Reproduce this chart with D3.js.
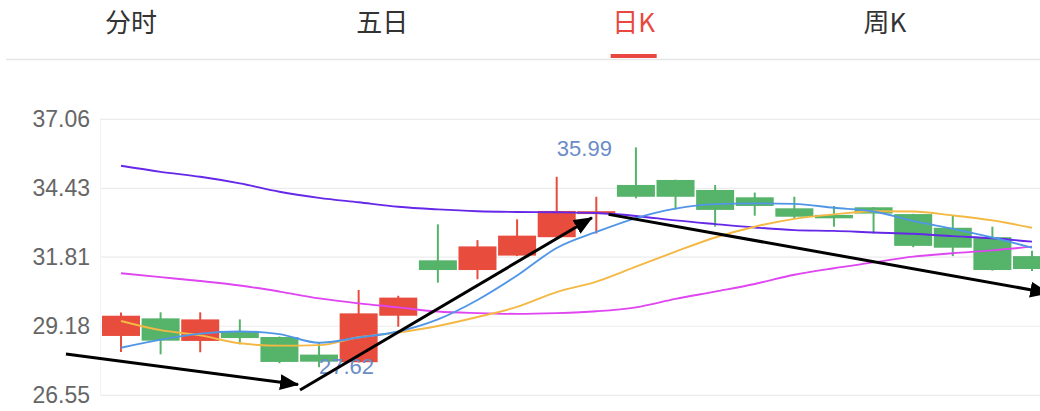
<!DOCTYPE html>
<html>
<head>
<meta charset="utf-8">
<title>日K</title>
<script src="https://d3js.org/d3.v7.min.js"></script>
<style>
  html, body { margin: 0; padding: 0; background: #fff; }
  svg { display: block; }
</style>
</head>
<body>
<div id="chart"></div>
<script>
// ---- data ----
var tabs = ["分时", "五日", "日K", "周K"];
var activeTab = 2;

var yTicks = [26.55, 29.18, 31.81, 34.43, 37.06];

// daily candles: open, close, high, low
var open  = [28.81, 29.48, 28.62, 29.00, 28.77, 28.10, 27.81, 29.58, 31.69, 31.32, 31.87, 32.57,
             33.45, 34.56, 34.75, 34.37, 34.09, 33.67, 33.42, 33.71, 33.45, 32.93, 32.57, 31.85];
var close = [29.58, 28.63, 29.44, 28.73, 27.82, 27.83, 29.67, 30.27, 31.32, 32.22, 32.63, 33.57,
             33.56, 34.11, 34.11, 33.61, 33.76, 33.35, 33.29, 33.47, 32.24, 32.17, 31.32, 31.36];
var high  = [29.70, 29.71, 29.71, 29.44, 28.79, 28.56, 30.56, 30.34, 33.06, 32.46, 33.25, 34.87,
             34.11, 35.99, 34.76, 34.56, 34.27, 34.11, 33.76, 33.72, 33.46, 33.38, 32.97, 32.05];
var low   = [28.20, 28.11, 28.19, 28.49, 27.77, 27.62, 27.80, 29.16, 30.84, 30.97, 31.85, 32.56,
             32.71, 34.05, 33.63, 32.97, 33.39, 33.29, 32.97, 32.71, 32.19, 31.85, 31.30, 31.28];

// moving average lines
var ma5  = [28.36, 28.67, 28.90, 28.98, 28.88, 28.55, 28.75, 28.98, 29.44, 30.18, 31.11, 32.16,
            32.77, 33.30, 33.66, 33.83, 33.86, 33.84, 33.69, 33.55, 33.19, 32.89, 32.56, 32.17];
var ma10 = [29.38, 29.03, 28.83, 28.53, 28.44, 28.46, 28.76, 28.94, 29.19, 29.53, 29.92, 30.48,
            30.88, 31.45, 32.02, 32.56, 32.97, 33.27, 33.44, 33.56, 33.55, 33.40, 33.21, 32.93];
var ma20 = [31.20, 31.05, 30.90, 30.73, 30.50, 30.24, 30.05, 29.90, 29.74, 29.68, 29.65, 29.68,
            29.75, 29.90, 30.22, 30.50, 30.79, 31.14, 31.39, 31.61, 31.83, 31.96, 32.07, 32.21];
var ma30 = [35.29, 35.06, 34.87, 34.62, 34.30, 34.07, 33.90, 33.73, 33.63, 33.56, 33.53, 33.52,
            33.49, 33.38, 33.21, 33.07, 32.94, 32.84, 32.81, 32.75, 32.70, 32.61, 32.53, 32.40];

// hand drawn arrows, [index, price] pairs
var arrows = [
  [[-1.39, 28.12], [4.47, 26.96]],
  [[4.52, 26.75], [11.89, 33.31]],
  [[12.31, 33.44], [23.41, 30.45]]
];

// ---- set-up ----
var W = 1040, H = 411;
var red = "#e84c3d", green = "#55b36a";

var svg = d3.select("#chart").append("svg")
  .attr("width", W).attr("height", H);

svg.append("rect").attr("width", W).attr("height", H).attr("fill", "#fff");

// tabs
var tabX = d3.scalePoint().domain(tabs).range([131, 885]);

svg.selectAll("text.tab")
  .data(tabs)
  .enter().append("text")
  .attr("class", "tab")
  .attr("x", function(d) { return tabX(d); })
  .attr("y", 32)
  .attr("text-anchor", "middle")
  .style("font-family", "'Noto Sans CJK SC', sans-serif")
  .style("font-size", "26px")
  .attr("fill", function(d, i) { return i == activeTab ? "#e8483f" : "#333"; })
  .text(function(d) { return d; });

svg.append("line")
  .attr("x1", 6).attr("x2", W).attr("y1", 59.5).attr("y2", 59.5)
  .attr("stroke", "#e6e6e6").attr("stroke-width", 1.5);

svg.append("rect")
  .attr("x", tabX(tabs[activeTab]) - 23).attr("y", 54)
  .attr("width", 46).attr("height", 4)
  .attr("fill", "#e8483f");

// scales
var y = d3.scaleLinear().domain([26.55, 37.06]).range([395.3, 119.3]);
var x = d3.scaleLinear().domain([0, 23]).range([121, 1032]);
var bodyW = 38;

// grid
svg.selectAll("line.grid")
  .data(yTicks)
  .enter().append("line")
  .attr("class", "grid")
  .attr("x1", 100).attr("x2", W)
  .attr("y1", function(d) { return y(d); })
  .attr("y2", function(d) { return y(d); })
  .attr("stroke", "#ececec").attr("stroke-width", 1.2);

svg.append("line")
  .attr("x1", 100.5).attr("x2", 100.5)
  .attr("y1", y(37.06)).attr("y2", y(26.55))
  .attr("stroke", "#f2f2f2");

// y axis labels
var yAxis = d3.axisLeft(y).tickValues(yTicks).tickSize(0).tickPadding(0)
  .tickFormat(d3.format(".2f"));

var ya = svg.append("g")
  .attr("transform", "translate(90,0)")
  .call(yAxis);
ya.select(".domain").remove();
ya.selectAll("text")
  .style("font-family", "'Liberation Sans', Arial, sans-serif")
  .style("font-size", "23px")
  .attr("fill", "#666");

// candles
var idx = d3.range(open.length);
var candles = svg.append("g").selectAll("g")
  .data(idx)
  .enter().append("g")
  .attr("fill", function(i) { return close[i] >= open[i] ? red : green; })
  .attr("stroke", function(i) { return close[i] >= open[i] ? red : green; });

candles.append("line")
  .attr("x1", function(i) { return x(i); })
  .attr("x2", function(i) { return x(i); })
  .attr("y1", function(i) { return y(high[i]); })
  .attr("y2", function(i) { return y(low[i]); })
  .attr("stroke-width", 2);

candles.append("rect")
  .attr("x", function(i) { return x(i) - bodyW / 2; })
  .attr("width", bodyW)
  .attr("y", function(i) { return y(Math.max(open[i], close[i])); })
  .attr("height", function(i) { return Math.max(2, Math.abs(y(open[i]) - y(close[i]))); })
  .attr("stroke", "none");

// moving averages
var line = d3.line()
  .x(function(d, i) { return x(i); })
  .y(function(d) { return y(d); })
  .curve(d3.curveMonotoneX);

var maSeries = [
  { values: ma30, color: "#6527e8" },
  { values: ma20, color: "#df45f0" },
  { values: ma10, color: "#f4b844" },
  { values: ma5,  color: "#5196e6" }
];

svg.selectAll("path.ma")
  .data(maSeries)
  .enter().append("path")
  .attr("class", "ma")
  .attr("d", function(d) { return line(d.values); })
  .attr("fill", "none")
  .attr("stroke", function(d) { return d.color; })
  .attr("stroke-width", 1.9);

// max / min labels
var iMax = d3.maxIndex(high), iMin = d3.minIndex(low);

svg.append("text")
  .attr("x", x(iMax) - 24).attr("y", y(high[iMax]) + 1)
  .attr("dy", "0.35em")
  .attr("text-anchor", "end")
  .style("font-family", "'Liberation Sans', Arial, sans-serif")
  .style("font-size", "22px")
  .attr("fill", "#6b8cc7")
  .text(high[iMax].toFixed(2));

svg.append("text")
  .attr("x", x(iMin)).attr("y", y(low[iMin]) - 1)
  .attr("dy", "0.35em")
  .style("font-family", "'Liberation Sans', Arial, sans-serif")
  .style("font-size", "22px")
  .attr("fill", "#6b8cc7")
  .text(low[iMin].toFixed(2));

// arrows
svg.append("defs").append("marker")
  .attr("id", "head")
  .attr("markerUnits", "userSpaceOnUse")
  .attr("markerWidth", 19).attr("markerHeight", 16)
  .attr("refX", 18).attr("refY", 8)
  .attr("orient", "auto")
  .append("path")
  .attr("d", "M0,0 L19,8 L0,16 Z")
  .attr("fill", "#000");

svg.selectAll("line.arrow")
  .data(arrows)
  .enter().append("line")
  .attr("class", "arrow")
  .attr("x1", function(d) { return x(d[0][0]); })
  .attr("y1", function(d) { return y(d[0][1]); })
  .attr("x2", function(d) { return x(d[1][0]); })
  .attr("y2", function(d) { return y(d[1][1]); })
  .attr("stroke", "#000")
  .attr("stroke-width", 3)
  .attr("marker-end", "url(#head)");
</script>
</body>
</html>
